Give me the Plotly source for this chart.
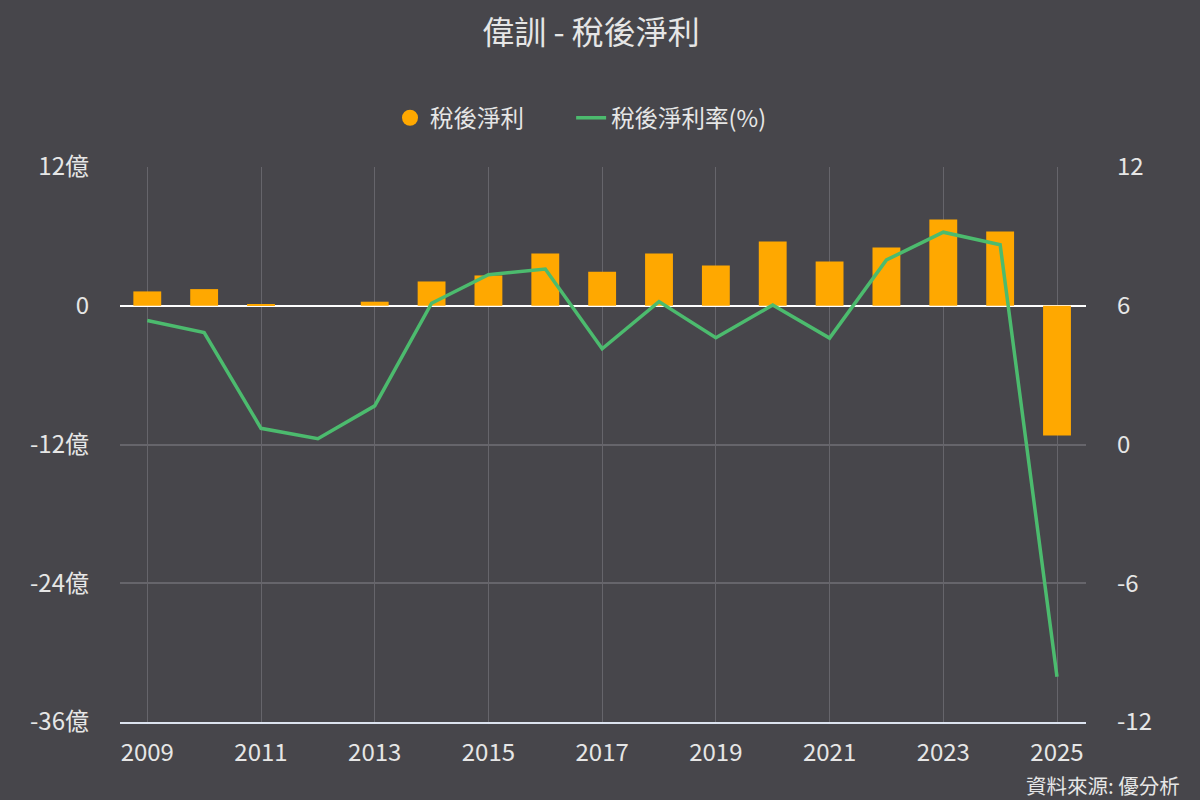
import plotly.graph_objects as go

years = list(range(2009, 2026))
net_income = [1.24, 1.44, 0.15, 0.0, 0.35, 2.10, 2.62, 4.52, 2.94, 4.52, 3.49, 5.56,
              3.83, 5.04, 7.47, 6.43, -11.22]
net_margin = [5.36, 4.84, 0.70, 0.25, 1.67, 6.11, 7.34, 7.59, 4.14, 6.18, 4.62, 6.03,
              4.60, 7.98, 9.18, 8.64, -10.04]

left_ticks = [-36, -24, -12, 0, 12]
left_labels = ["-36億", "-24億", "-12億", "0", "12億"]
right_ticks = [-12, -6, 0, 6, 12]
x_ticks = list(range(2009, 2026, 2))

BG = "#47464b"
TXT = "#e6e6e6"
GRID = "#66656b"
ORANGE = "#ffa800"
GREEN = "#4cbb6e"
FONT = "Noto Sans CJK TC"
PAD = "\u00a0" * 8

L, R, T, B = 120, 114, 167, 78
plot_w = 1200 - L - R
plot_h = 800 - T - B

fig = go.Figure()
fig.add_trace(go.Bar(x=years, y=net_income, name="稅後淨利", marker_color=ORANGE,
                     marker_line_width=0, width=0.49, showlegend=False,
                     legendgroup="a", yaxis="y"))
fig.add_trace(go.Scatter(x=[None], y=[None], mode="markers", name="稅後淨利" + PAD,
                         marker=dict(symbol="circle", size=22, color=ORANGE),
                         legendgroup="a", showlegend=True))
fig.add_trace(go.Scatter(x=years, y=net_margin, name="稅後淨利率(%)", mode="lines",
                         line=dict(color=GREEN, width=3.5), yaxis="y2"))

fig.update_layout(
    width=1200, height=800,
    paper_bgcolor=BG, plot_bgcolor=BG,
    font=dict(family=FONT, color=TXT, size=24),
    margin=dict(l=L, r=R, t=T, b=B),
    title=dict(text="偉訓 - 稅後淨利", x=0.4925, xanchor="center", y=1 - 32.5 / 800,
               yanchor="middle", font=dict(size=32, color=TXT, family=FONT)),
    legend=dict(orientation="h", x=(390 - L) / plot_w, xanchor="left",
                y=1 + 49 / plot_h, yanchor="middle",
                font=dict(size=23.5, color=TXT, family=FONT), bgcolor="rgba(0,0,0,0)",
                itemwidth=30),
    bargap=0.5,
    xaxis=dict(range=[2008.52, 2025.51], tickvals=x_ticks, ticktext=[str(v) for v in x_ticks],
               showgrid=True, gridcolor=GRID, gridwidth=1, zeroline=False,
               showline=True, linecolor="#dce3ef", linewidth=2,
               ticks="", ticklabelstandoff=8, tickfont=dict(size=24, color=TXT)),
    yaxis=dict(range=[-36, 12], tickvals=left_ticks, ticktext=left_labels,
               showgrid=True, gridcolor=GRID, gridwidth=2,
               zeroline=True, zerolinecolor="#ffffff", zerolinewidth=2,
               ticks="", ticklabelstandoff=30, tickfont=dict(size=24, color=TXT)),
    yaxis2=dict(range=[-12, 12], tickvals=right_ticks, ticktext=[str(v) for v in right_ticks],
                overlaying="y", side="right", showgrid=False, zeroline=False,
                ticks="", ticklabelstandoff=30, tickfont=dict(size=24, color=TXT)),
    annotations=[dict(text="資料來源: 優分析", xref="paper", yref="paper",
                      x=(1182 - L) / plot_w, y=-(785 - (800 - B)) / plot_h,
                      xanchor="right", yanchor="middle",
                      showarrow=False, font=dict(size=20.5, color=TXT, family=FONT))],
)

fig.write_html("out.html")
